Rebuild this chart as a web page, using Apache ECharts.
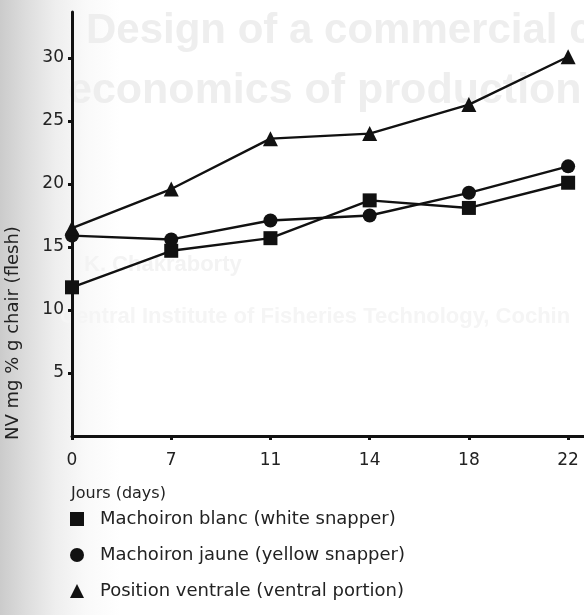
<!DOCTYPE html>
<html>
<head>
<meta charset="utf-8">
<script src="https://cdn.jsdelivr.net/npm/echarts@6/dist/echarts.min.js"></script>
<style>
html,body{margin:0;padding:0;width:584px;height:615px;overflow:hidden;
background:linear-gradient(to right,#cbcbcb 0px,#dcdcdc 25px,#eeeeee 55px,#f9f9f9 85px,#ffffff 120px);}
#chart{width:584px;height:615px;}
</style>
</head>
<body>
<div id="chart"></div>
<script>
var days = ['0', '7', '11', '14', '18', '22'];
var whiteSnapper = [11.8, 14.7, 15.7, 18.7, 18.1, 20.1];
var yellowSnapper = [15.9, 15.6, 17.1, 17.5, 19.3, 21.4];
var ventralPortion = [16.5, 19.6, 23.6, 24.0, 26.3, 30.1];
var yTicks = [5, 10, 15, 20, 25, 30];
var seriesNames = ['Machoiron blanc (white snapper)', 'Machoiron jaune (yellow snapper)', 'Position ventrale (ventral portion)'];

function pairs(vals){ return vals.map(function(v,i){ return [i, v]; }); }

var chart = echarts.init(document.getElementById('chart'), null, {renderer:'canvas'});
var font = 'DejaVu Sans';
var lineStyle = {color:'#111', width:2.4};
function mkSeries(name, vals, symbol, size){
  return {name:name, type:'line', data:pairs(vals), symbol:symbol, symbolSize:size,
    itemStyle:{color:'#111'}, lineStyle:lineStyle, z:5, animation:false};
}
chart.setOption({
  animation:false,
  backgroundColor:'transparent',
  grid:{left:72, right:0, top:12, bottom:179},
  title:{text:'Jours (days)', left:66, top:481,
    textStyle:{fontFamily:font, fontSize:16, fontWeight:'normal', color:'#222'}},
  legend:{orient:'vertical', left:65, top:504, itemGap:16, itemWidth:14, itemHeight:14,
    data:[{name:seriesNames[0], icon:'rect'},{name:seriesNames[1], icon:'circle'},{name:seriesNames[2], icon:'triangle'}],
    textStyle:{fontFamily:font, fontSize:18, color:'#222', lineHeight:20, padding:[0,0,0,11]}},
  xAxis:{type:'value', min:0, max:5.16,
    axisLine:{lineStyle:{color:'#111', width:3}},
    axisTick:{customValues:[0,1,2,3,4,5], length:4, lineStyle:{color:'#111', width:3}},
    axisLabel:{customValues:[0,1,2,3,4,5], formatter:function(v){ return days[v]; },
      margin:16, fontFamily:font, fontSize:17, color:'#222'},
    splitLine:{show:false}},
  yAxis:{type:'value', min:0, max:33.65,
    axisLine:{show:true, lineStyle:{color:'#111', width:3}},
    axisTick:{show:true, customValues:yTicks, length:4, lineStyle:{color:'#111', width:3}},
    axisLabel:{customValues:yTicks, margin:8, fontFamily:font, fontSize:17, color:'#222'},
    splitLine:{show:false}},
  graphic:[
    {type:'text', left:86, top:10, z:-10, silent:true,
      style:{text:'Design of a commercial c', fontFamily:'Liberation Sans', fontWeight:'bold', fontSize:42, fill:'#eeeeee'}},
    {type:'text', left:68, top:70, z:-10, silent:true,
      style:{text:'economics of production', fontFamily:'Liberation Sans', fontWeight:'bold', fontSize:43, fill:'#eeeeee'}},
    {type:'text', left:84, top:254, z:-10, silent:true,
      style:{text:'K. Chakraborty', fontFamily:'Liberation Sans', fontWeight:'bold', fontSize:22, fill:'#f3f3f3'}},
    {type:'text', left:60, top:306, z:-10, silent:true,
      style:{text:'Central Institute of Fisheries Technology, Cochin', fontFamily:'Liberation Sans', fontWeight:'bold', fontSize:22, fill:'#f5f5f5'}},
    {type:'text', x:13, y:440, rotation:Math.PI/2,
      style:{text:'NV mg % g chair (flesh)', fontFamily:font, fontSize:18, fill:'#222', align:'left', verticalAlign:'middle'}}
  ],
  series:[
    mkSeries(seriesNames[0], whiteSnapper, 'rect', 14),
    mkSeries(seriesNames[1], yellowSnapper, 'circle', 14),
    mkSeries(seriesNames[2], ventralPortion, 'triangle', 15)
  ]
});
</script>
</body>
</html>
